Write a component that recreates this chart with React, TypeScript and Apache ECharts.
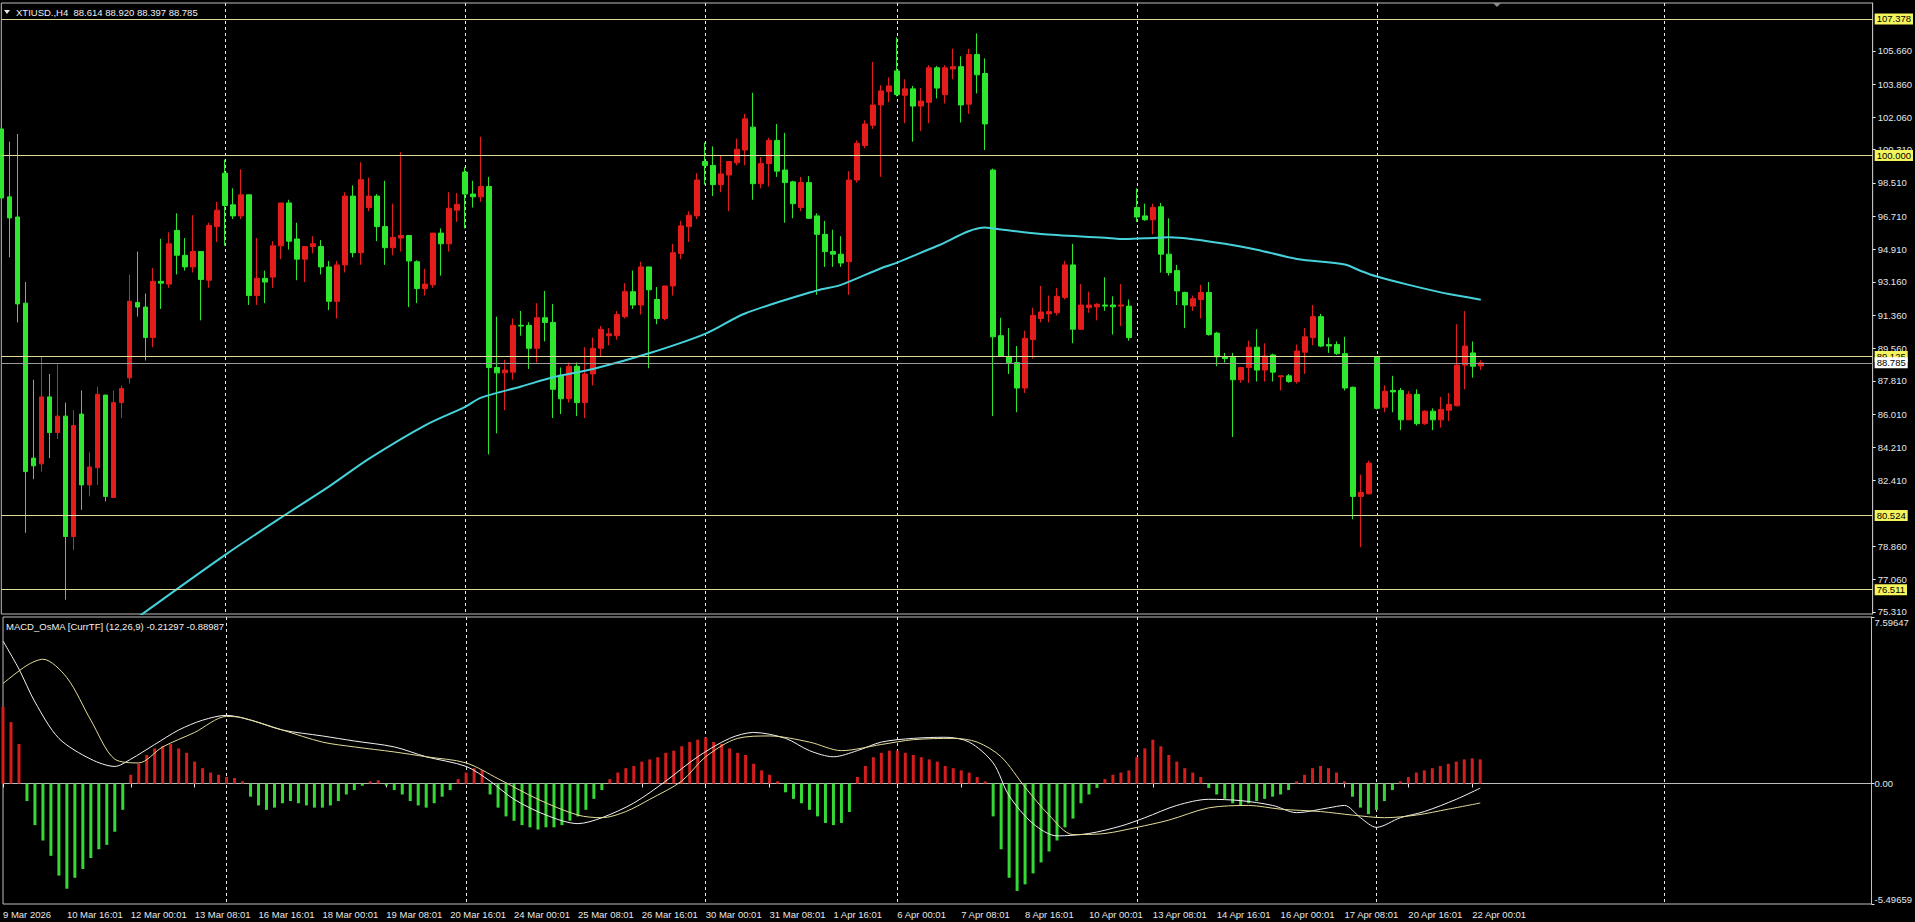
import React, { useEffect, useRef } from 'react';
import * as echarts from 'echarts';

const symbolName = 'XTIUSD.,H4';

const tickLabels = [
  '9 Mar 2026', '10 Mar 16:01', '12 Mar 00:01', '13 Mar 08:01', '16 Mar 16:01', '18 Mar 00:01',
  '19 Mar 08:01', '20 Mar 16:01', '24 Mar 00:01', '25 Mar 08:01', '26 Mar 16:01', '30 Mar 00:01',
  '31 Mar 08:01', '1 Apr 16:01', '6 Apr 00:01', '7 Apr 08:01', '8 Apr 16:01', '10 Apr 00:01',
  '13 Apr 08:01', '14 Apr 16:01', '16 Apr 00:01', '17 Apr 08:01', '20 Apr 16:01', '22 Apr 00:01',
];

const opens = [
  101.43, 97.76, 96.67, 92.01, 83.63, 83.32, 86.94, 85.01, 85.90, 79.39,
  86.01, 82.18, 83.11, 87.04, 81.50, 86.63, 87.97, 92.05, 91.80, 90.15,
  93.19, 93.04, 95.94, 94.60, 93.97, 94.80, 93.25, 96.15, 99.04, 97.33,
  96.73, 97.87, 92.42, 93.35, 93.42, 95.11, 97.43, 95.48, 94.39, 95.07,
  95.07, 93.97, 92.11, 94.08, 97.80, 94.74, 97.18, 97.80, 96.15, 95.01,
  95.53, 95.67, 94.25, 92.80, 93.00, 95.80, 95.22, 97.04, 99.10, 97.91,
  97.76, 98.32, 88.53, 88.24, 88.28, 90.81, 90.81, 89.57, 91.22, 90.97,
  88.12, 86.84, 88.60, 86.63, 88.18, 89.57, 90.25, 90.25, 91.28, 92.63,
  91.91, 93.97, 92.21, 91.18, 92.94, 94.70, 96.15, 96.73, 99.67, 99.46,
  98.42, 98.94, 99.60, 100.29, 101.53, 98.47, 99.56, 100.81, 99.21, 98.57,
  97.18, 98.53, 96.73, 95.73, 94.80, 94.66, 94.25, 98.67, 100.54, 101.63,
  102.73, 103.45, 104.57, 103.25, 103.60, 102.67, 102.87, 104.74, 103.29, 104.67,
  104.80, 102.77, 105.46, 104.43, 99.21, 90.25, 89.11, 88.80, 87.42, 90.04,
  91.18, 91.43, 91.49, 92.32, 94.08, 90.60, 91.77, 91.81, 91.91, 91.91,
  91.85, 91.85, 97.18, 96.73, 96.52, 97.22, 94.66, 93.77, 92.59, 91.85,
  92.21, 92.59, 90.39, 89.11, 89.07, 87.87, 88.53, 89.63, 88.39, 89.21,
  88.03, 88.08, 87.77, 89.36, 90.15, 91.28, 89.77, 89.77, 89.28, 87.46,
  81.56, 81.70, 89.11, 86.38, 87.29, 87.29, 85.70, 87.08, 85.49, 86.17,
  85.70, 86.22, 86.46, 88.66, 89.32, 88.614,
];
const highs = [
  103.80, 100.74, 101.16, 93.15, 87.87, 89.11, 88.18, 88.70, 86.63, 86.22,
  87.29, 83.94, 87.50, 87.04, 87.29, 87.56, 93.56, 94.80, 92.53, 93.91,
  95.49, 95.84, 96.87, 95.53, 96.77, 94.80, 96.36, 97.49, 99.77, 98.22,
  99.25, 97.87, 95.53, 93.77, 95.36, 97.43, 97.60, 96.36, 95.07, 95.63,
  95.42, 94.29, 94.29, 98.01, 98.38, 99.63, 98.80, 97.91, 98.63, 97.39,
  100.18, 95.67, 94.33, 93.87, 95.80, 96.05, 98.01, 97.97, 99.36, 98.63,
  101.01, 98.84, 91.28, 88.95, 91.18, 91.59, 90.98, 92.01, 92.67, 91.97,
  88.53, 88.80, 88.80, 89.63, 90.15, 90.77, 90.66, 91.59, 93.09, 93.77,
  94.25, 93.97, 92.88, 92.94, 95.22, 96.46, 96.98, 99.04, 100.70, 100.49,
  99.97, 99.67, 100.91, 102.25, 103.39, 99.91, 100.95, 101.70, 101.22, 98.63,
  98.84, 98.88, 96.87, 96.46, 95.98, 95.63, 99.15, 100.81, 101.90, 105.05,
  103.80, 104.22, 106.39, 104.12, 103.76, 103.64, 104.88, 104.84, 104.88, 105.77,
  105.36, 105.77, 106.60, 105.25, 99.29, 91.22, 90.66, 89.69, 90.52, 91.76,
  92.94, 92.42, 92.84, 94.29, 95.22, 93.04, 92.63, 92.01, 93.41, 92.38,
  93.04, 92.21, 98.22, 97.39, 97.39, 97.43, 96.60, 94.08, 92.63, 92.42,
  93.00, 93.15, 90.46, 89.32, 89.32, 88.53, 89.98, 90.60, 89.84, 89.28,
  88.08, 88.18, 89.77, 90.66, 91.91, 91.43, 90.15, 89.94, 90.19, 87.50,
  82.74, 83.49, 89.11, 87.56, 88.08, 87.42, 87.25, 87.35, 86.22, 86.32,
  86.94, 87.15, 90.87, 91.59, 89.94, 88.920,
];
const lows = [
  94.18, 94.49, 90.97, 79.59, 82.49, 82.90, 83.63, 84.66, 75.97, 78.66,
  80.83, 81.56, 82.18, 81.29, 81.50, 85.80, 87.66, 91.28, 88.91, 89.63,
  91.70, 92.84, 93.56, 93.77, 93.67, 91.08, 92.84, 95.32, 95.12, 96.56,
  96.56, 91.91, 91.91, 92.01, 92.84, 94.39, 94.91, 93.25, 93.15, 94.70,
  93.56, 91.63, 91.18, 93.67, 94.49, 94.08, 96.98, 95.36, 94.08, 94.60,
  94.80, 91.80, 92.01, 92.42, 92.84, 93.50, 94.80, 96.40, 96.05, 97.18,
  97.49, 83.83, 84.97, 86.22, 87.87, 90.25, 88.45, 88.80, 89.94, 85.80,
  86.01, 86.63, 85.90, 85.80, 87.56, 89.11, 89.73, 90.04, 91.18, 91.70,
  91.39, 88.49, 90.87, 91.08, 92.42, 94.39, 95.32, 96.56, 98.42, 97.80,
  98.01, 96.98, 99.46, 99.46, 97.60, 98.22, 98.32, 98.84, 96.36, 96.60,
  96.98, 96.56, 92.46, 93.97, 93.97, 93.97, 92.46, 98.53, 100.39, 101.43,
  98.84, 102.87, 103.19, 101.74, 100.74, 101.32, 101.74, 103.08, 102.81, 104.12,
  101.78, 102.25, 103.35, 100.29, 85.90, 89.11, 88.18, 86.11, 87.15, 89.01,
  90.97, 90.97, 91.35, 92.21, 89.84, 90.56, 91.49, 91.08, 91.60, 90.31,
  90.77, 89.98, 96.40, 96.46, 95.73, 93.66, 93.50, 91.91, 90.66, 91.59,
  91.18, 90.25, 88.60, 88.80, 84.77, 87.70, 87.70, 87.77, 87.77, 87.77,
  87.29, 87.70, 87.66, 88.18, 89.73, 89.63, 89.32, 89.21, 87.29, 80.32,
  78.81, 81.66, 86.26, 86.11, 86.11, 85.14, 85.70, 85.39, 85.43, 85.14,
  85.28, 85.63, 86.42, 87.35, 87.98, 88.397,
];
const closes = [
  97.70, 96.62, 91.97, 82.90, 83.21, 86.94, 85.01, 85.90, 79.39, 85.39,
  82.18, 83.15, 87.08, 81.56, 86.63, 87.39, 92.11, 91.80, 90.15, 93.19,
  93.09, 95.22, 94.60, 93.97, 94.80, 93.29, 96.21, 97.04, 97.29, 96.73,
  97.87, 92.42, 93.35, 93.15, 95.11, 97.43, 95.36, 94.39, 95.07, 95.22,
  93.97, 92.11, 94.08, 97.80, 94.74, 98.69, 97.80, 96.15, 95.01, 95.57,
  95.67, 94.29, 92.80, 93.04, 95.80, 95.22, 97.14, 97.35, 97.91, 97.76,
  98.32, 88.53, 88.24, 88.39, 90.81, 90.77, 89.57, 91.22, 90.97, 87.35,
  86.84, 88.60, 86.63, 88.18, 89.57, 90.60, 90.35, 91.39, 92.63, 91.91,
  93.97, 92.73, 91.18, 92.94, 94.74, 96.19, 96.77, 98.67, 99.46, 98.42,
  99.00, 99.67, 100.33, 101.98, 98.47, 99.56, 100.81, 99.15, 98.53, 97.39,
  98.53, 96.60, 95.73, 94.80, 94.66, 94.18, 98.67, 100.66, 101.70, 102.73,
  103.49, 103.76, 103.29, 103.60, 102.67, 102.94, 104.74, 103.64, 104.74, 104.80,
  102.73, 105.46, 104.36, 101.70, 90.19, 89.15, 88.80, 87.42, 90.11, 91.35,
  91.53, 91.55, 92.38, 94.08, 90.60, 91.91, 91.91, 91.95, 91.85, 91.81,
  91.91, 90.15, 96.67, 96.52, 97.18, 94.66, 93.66, 92.67, 91.91, 92.25,
  92.59, 90.31, 89.11, 89.01, 87.87, 88.53, 89.63, 88.39, 89.15, 88.28,
  88.08, 87.77, 89.42, 90.19, 91.28, 89.69, 89.69, 89.28, 87.42, 81.56,
  81.77, 83.36, 86.32, 87.25, 87.21, 85.70, 87.08, 85.49, 86.17, 85.70,
  86.26, 86.53, 88.66, 89.69, 88.60, 88.785,
];

// moving average readings: [bar index, price]
const maPoints = [
  [17, 75.0], [28, 78.4], [36, 80.7], [41, 82.1], [46, 83.6], [53, 85.4], [58, 86.4],
  [60, 86.9], [65, 87.5], [69, 88.0], [74, 88.45], [81, 89.3], [88, 90.35], [93, 91.45],
  [102, 92.7], [105, 93.0], [110, 93.9], [112, 94.2], [117, 95.1], [123, 96.1], [124, 96.05],
  [130, 95.75], [138, 95.55], [140, 95.48], [143, 95.52], [146, 95.57], [149, 95.47],
  [153, 95.22], [157, 94.9], [162, 94.4], [168, 94.1], [170, 93.75], [172, 93.45],
  [176, 93.0], [181, 92.5], [185, 92.2],
];

const osma = [
  3.5, 2.8, 1.8, -0.8, -1.9, -2.6, -3.3, -4.2, -4.8, -4.3,
  -3.9, -3.4, -3.0, -2.8, -2.2, -1.2, 0.4, 0.9, 1.3, 1.6,
  1.7, 1.8, 1.6, 1.4, 1.0, 0.7, 0.5, 0.4, 0.3, 0.25,
  0.1, -0.6, -1.0, -1.2, -1.1, -0.9, -0.8, -0.9, -1.0, -1.1,
  -1.1, -1.0, -0.8, -0.5, -0.3, -0.1, 0.1, 0.15, -0.1, -0.3,
  -0.5, -0.8, -1.0, -1.1, -0.9, -0.6, -0.3, 0.2, 0.5, 0.7,
  0.6, -0.5, -1.1, -1.5, -1.7, -1.9, -2.0, -2.1, -2.0, -2.0,
  -1.9, -1.7, -1.5, -1.2, -0.7, -0.3, 0.2, 0.5, 0.7, 0.8,
  1.0, 1.1, 1.2, 1.4, 1.5, 1.7, 1.9, 2.0, 2.1, 1.9,
  1.8, 1.6, 1.4, 1.3, 0.9, 0.6, 0.4, 0.1, -0.4, -0.7,
  -0.9, -1.2, -1.5, -1.8, -1.9, -1.8, -1.3, 0.3, 0.8, 1.2,
  1.4, 1.5, 1.5, 1.4, 1.3, 1.2, 1.1, 1.0, 0.8, 0.7,
  0.6, 0.5, 0.3, 0.1, -1.5, -3.0, -4.3, -4.9, -4.6, -4.1,
  -3.6, -3.1, -2.6, -2.0, -1.6, -0.9, -0.5, -0.2, 0.2, 0.4,
  0.5, 0.6, 1.2, 1.6, 2.0, 1.7, 1.3, 1.0, 0.7, 0.5,
  0.3, -0.2, -0.5, -0.7, -0.9, -1.0, -0.9, -0.8, -0.7, -0.6,
  -0.5, -0.3, 0.1, 0.4, 0.7, 0.8, 0.7, 0.5, 0.1, -0.6,
  -1.1, -1.4, -1.2, -0.8, -0.3, 0.1, 0.3, 0.5, 0.6, 0.7,
  0.8, 0.9, 1.0, 1.1, 1.15, 1.1,
];

const macdLine = [
  [0, 6.5], [2, 5.22], [4, 3.72], [7, 2.06], [11, 1.11], [14, 0.78], [16, 1.11], [19, 1.78],
  [22, 2.44], [25, 2.89], [28, 3.11], [31, 2.89], [35, 2.44], [40, 2.17], [44, 1.94], [49, 1.67],
  [53, 1.22], [58, 0.78], [61, 0.11], [64, -0.72], [68, -1.44], [72, -1.83], [75, -1.56],
  [79, -0.89], [83, 0.11], [87, 1.22], [91, 2.06], [94, 2.33], [98, 2.06], [101, 1.5],
  [104, 1.22], [107, 1.5], [110, 1.89], [114, 2.06], [118, 2.11], [121, 1.89], [124, 0.94],
  [126, -0.56], [129, -1.83], [132, -2.39], [136, -2.28], [140, -1.94], [143, -1.56],
  [147, -1.0], [151, -0.72], [155, -0.78], [159, -1.0], [162, -1.33], [166, -1.11],
  [168, -1.0], [170, -1.56], [172, -2.0], [175, -1.56], [178, -1.28], [182, -0.72], [185, -0.21],
];
const signalLine = [
  [0, 4.56], [3, 5.39], [5, 5.67], [8, 4.83], [11, 2.89], [14, 1.11], [17, 0.94], [20, 1.67],
  [24, 2.33], [28, 3.06], [30, 3.0], [35, 2.44], [40, 1.89], [44, 1.67], [49, 1.44], [53, 1.22],
  [58, 0.94], [62, 0.22], [67, -0.72], [72, -1.44], [75, -1.56], [78, -1.28], [81, -0.72],
  [85, 0.11], [88, 1.22], [92, 2.06], [96, 2.17], [101, 1.89], [105, 1.5], [110, 1.78],
  [114, 2.0], [119, 2.06], [122, 1.89], [125, 1.22], [128, -0.17], [131, -1.44], [134, -2.33],
  [138, -2.28], [142, -2.0], [146, -1.67], [151, -1.11], [156, -1.0], [160, -1.17],
  [165, -1.28], [169, -1.44], [173, -1.56], [177, -1.44], [181, -1.17], [185, -0.89],
];

const macdTitle = 'MACD_OsMA [CurrTF] (12,26,9)';
const macdCurrent = [-0.21297, -0.88987];

const priceTicks = [105.66, 103.86, 102.06, 100.31, 98.51, 96.71, 94.91, 93.16, 91.36, 89.56, 87.81, 86.01, 84.21, 82.41, 78.86, 77.06, 75.31];
const levelLines = [107.378, 100.0, 89.125, 80.524, 76.511];
const macdTicks = [-5.49659, 0, 7.59647];
const weekGridBars = [28, 58, 88, 112, 142, 172, 208];

const PRICE_MIN = 75.199;
const PRICE_MAX = 108.243;
const SLOTS = 235;
const LABEL_STEP = 8;

const FONT = "'Liberation Sans', Arial, sans-serif";
const UP = '#e41c1c';
const DOWN = '#2ee62e';
const TEXT = '#e6e6e6';
const BORDER = '#bdbdbd';

export default function App() {
  const ref = useRef<HTMLDivElement>(null);
  useEffect(() => {
    if (!ref.current) return;
    const chart = echarts.init(ref.current, null, { renderer: 'svg' });
    const last = opens.length - 1;
    const bid = closes[last];
    const categories = Array.from({ length: SLOTS }, (_, i) =>
      i % LABEL_STEP === 0 && i / LABEL_STEP < tickLabels.length ? tickLabels[i / LABEL_STEP] : ''
    );
    const isLabelIdx = (i: number) => i % LABEL_STEP === 0 && i / LABEL_STEP < tickLabels.length;
    const isGrid = (i: number) => weekGridBars.includes(i);
    const gridLeft = 1.3;
    const gridWidth = 8 * (SLOTS - 1);
    const splitLine = {
      show: true,
      interval: (i: number) => isGrid(i),
      lineStyle: { color: '#e8e8e8', width: 1, type: [3, 3] as any },
    };
    const lvlLabel = (bg: string) => ({
      show: true,
      position: 'end',
      distance: 2,
      formatter: (p: any) => Number(p.value).toFixed(3),
      backgroundColor: bg,
      color: '#000',
      fontSize: 9.5,
      fontFamily: FONT,
      padding: [1, 2, 0, 2],
      lineHeight: 10,
    });
    const option: any = {
      animation: false,
      backgroundColor: '#000',
      grid: [
        { left: gridLeft, width: gridWidth, top: 3, height: 611, show: true, borderColor: BORDER, borderWidth: 1, backgroundColor: 'transparent' },
        { left: gridLeft, width: gridWidth, top: 617, height: 287, show: true, borderColor: BORDER, borderWidth: 1, backgroundColor: 'transparent' },
      ],
      xAxis: [
        {
          type: 'category', gridIndex: 0, data: categories, boundaryGap: false,
          axisLine: { show: false }, axisTick: { show: false }, axisLabel: { show: false },
          splitLine,
        },
        {
          type: 'category', gridIndex: 1, data: categories, boundaryGap: false,
          axisLine: { show: true, lineStyle: { color: BORDER } },
          axisTick: { show: true, interval: (i: number) => isLabelIdx(i), length: 4, lineStyle: { color: TEXT } },
          axisLabel: {
            show: true, interval: (i: number) => isLabelIdx(i), align: 'left', margin: 5,
            color: TEXT, fontSize: 9.5, fontFamily: FONT,
          },
          splitLine,
        },
      ],
      yAxis: [
        {
          type: 'value', gridIndex: 0, position: 'right', min: PRICE_MIN, max: PRICE_MAX,
          axisLine: { show: true, lineStyle: { color: BORDER } },
          axisTick: { show: true, length: 3, customValues: priceTicks, lineStyle: { color: TEXT } },
          axisLabel: {
            show: true, customValues: priceTicks, formatter: (v: number) => v.toFixed(3),
            color: TEXT, fontSize: 9.5, fontFamily: FONT, margin: 5,
          },
          splitLine: { show: false },
        },
        {
          type: 'value', gridIndex: 1, position: 'right', min: macdTicks[0], max: macdTicks[2],
          axisLine: { show: true, lineStyle: { color: BORDER } },
          axisTick: { show: true, length: 3, customValues: macdTicks, lineStyle: { color: TEXT } },
          axisLabel: {
            show: true, customValues: macdTicks,
            formatter: (v: number) => (v === 0 ? '0.00' : v.toFixed(5)),
            color: TEXT, fontSize: 9.5, fontFamily: FONT, margin: 3,
            verticalAlignMinLabel: 'bottom', verticalAlignMaxLabel: 'top',
          },
          splitLine: { show: false },
        },
      ],
      series: [
        {
          type: 'candlestick', xAxisIndex: 0, yAxisIndex: 0, barWidth: 5, clip: false,
          data: opens.map((o, i) => [o, closes[i], lows[i], highs[i]]),
          itemStyle: { color: UP, color0: DOWN, borderColor: UP, borderColor0: DOWN, borderWidth: 1 },
          markLine: {
            symbol: 'none', silent: true, animation: false, precision: 3,
            data: [
              ...levelLines.map((v) => ({ yAxis: v, lineStyle: { color: '#dcdc98', width: 1, type: 'solid' }, label: lvlLabel('#f4f45c') })),
              { yAxis: bid, lineStyle: { color: '#9c9c9c', width: 1, type: 'solid' }, label: lvlLabel('#ffffff') },
            ],
          },
          z: 3,
        },
        {
          type: 'line', xAxisIndex: 0, yAxisIndex: 0, data: maPoints, showSymbol: false, smooth: 0.3,
          lineStyle: { color: '#46d2da', width: 2 }, z: 4,
        },
        {
          type: 'bar', xAxisIndex: 1, yAxisIndex: 1, data: osma, barWidth: 3,
          itemStyle: { color: (p: any) => (p.value >= 0 ? '#d41e1e' : '#36d836') },
        },
        {
          type: 'line', xAxisIndex: 1, yAxisIndex: 1, data: macdLine, showSymbol: false, smooth: 0.3,
          lineStyle: { color: '#f2f2f2', width: 1 }, z: 4,
        },
        {
          type: 'line', xAxisIndex: 1, yAxisIndex: 1, data: signalLine, showSymbol: false, smooth: 0.3,
          lineStyle: { color: '#e4dc9a', width: 1 }, z: 4,
        },
      ],
      graphic: [
        { type: 'polygon', shape: { points: [[4, 10], [10, 10], [7, 14]] }, style: { fill: '#e6e6e6' } },
        {
          type: 'text', x: 16, y: 12,
          style: {
            text: `${symbolName}  ${opens[last].toFixed(3)} ${highs[last].toFixed(3)} ${lows[last].toFixed(3)} ${closes[last].toFixed(3)}`,
            fill: '#f0f0f0', fontSize: 9.5, fontFamily: FONT, verticalAlign: 'middle',
          },
        },
        {
          type: 'text', x: 6, y: 626,
          style: {
            text: `${macdTitle} ${macdCurrent[0].toFixed(5)} ${macdCurrent[1].toFixed(5)}`,
            fill: '#f0f0f0', fontSize: 9.5, fontFamily: FONT, verticalAlign: 'middle',
          },
        },
        { type: 'polygon', shape: { points: [[1493, 3], [1501, 3], [1497, 7]] }, style: { fill: '#8c8c8c' } },
      ],
    };
    chart.setOption(option);
    return () => chart.dispose();
  }, []);
  return (
    <div
      ref={ref}
      style={{ position: 'fixed', left: 0, top: 0, width: 1915, height: 922, background: '#000' }}
    />
  );
}
